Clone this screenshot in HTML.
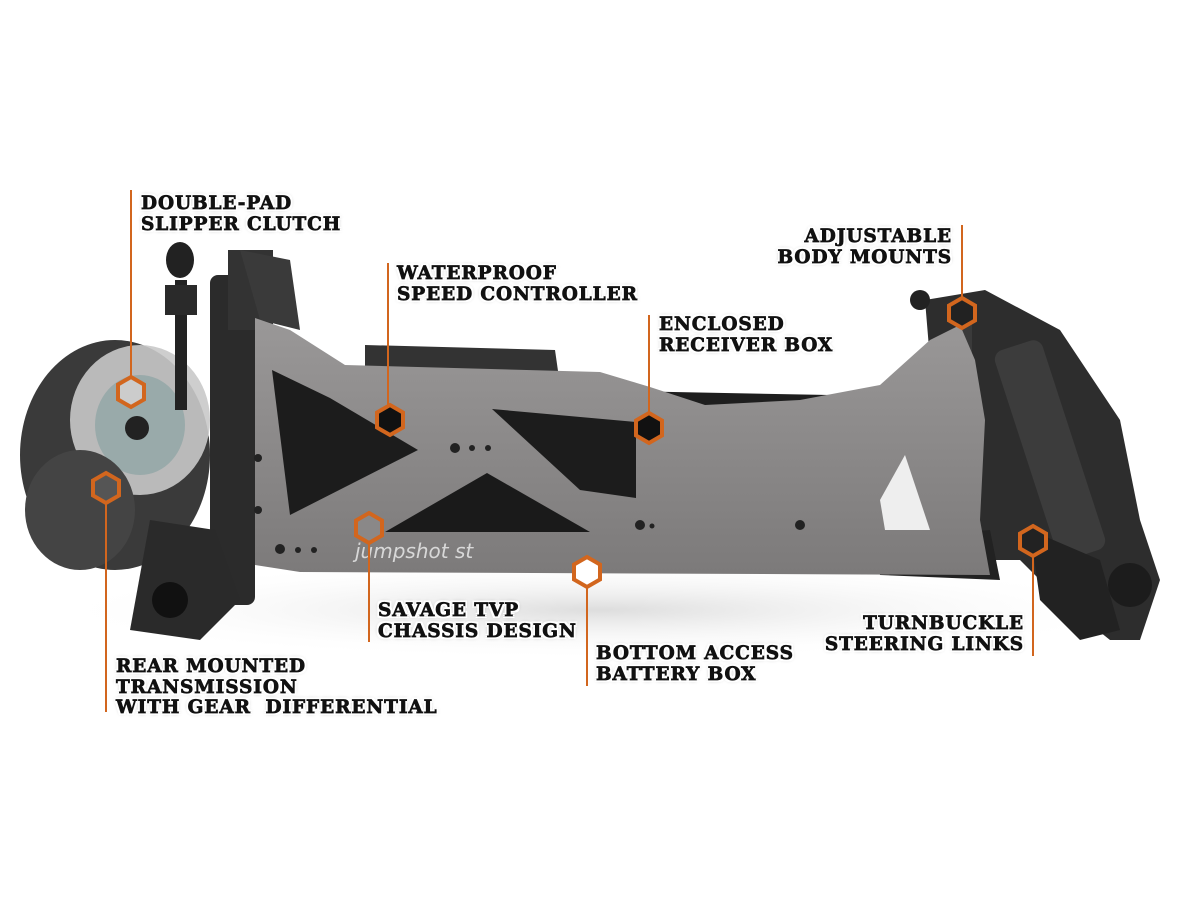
<!DOCTYPE html>
<html><head><meta charset="utf-8"><style>
html,body{margin:0;padding:0;background:#fff;}
#c{position:relative;width:1200px;height:900px;overflow:hidden;background:#fff;}
.l{position:absolute;font-family:"DejaVu Serif","Liberation Serif",serif;font-weight:bold;font-size:18.5px;line-height:20.5px;color:#111;letter-spacing:0.9px;-webkit-text-stroke:0.7px #111;
text-shadow:2px 0 #fff,-2px 0 #fff,0 2px #fff,0 -2px #fff,2px 2px #fff,-2px -2px #fff,2px -2px #fff,-2px 2px #fff,0 0 4px #888;white-space:pre;}
.r{text-align:right;}
</style></head><body><div id="c">
<svg width="1200" height="900" style="position:absolute;left:0;top:0">
<defs>
<radialGradient id="sh" cx="50%" cy="50%" r="50%"><stop offset="0" stop-color="#ddd"/><stop offset="1" stop-color="#fff" stop-opacity="0"/></radialGradient>
<linearGradient id="pl" x1="0" y1="0" x2="0" y2="1"><stop offset="0" stop-color="#9a9898"/><stop offset="1" stop-color="#7c7a7a"/></linearGradient>
</defs>
<ellipse cx="600" cy="610" rx="560" ry="50" fill="url(#sh)"/>
<path d="M310 385 L830 395 L840 520 L300 525 Z" fill="#1e1e1e"/>
<path d="M365 345 L555 350 L560 385 L365 385 Z" fill="#333"/>
<ellipse cx="115" cy="455" rx="95" ry="115" fill="#3a3a3a"/>
<ellipse cx="140" cy="420" rx="70" ry="75" fill="#c9c9c9" opacity="0.9"/>
<ellipse cx="140" cy="425" rx="45" ry="50" fill="#9aa"/>
<circle cx="137" cy="428" r="12" fill="#222"/>
<ellipse cx="80" cy="510" rx="55" ry="60" fill="#444"/>
<rect x="175" y="280" width="12" height="130" fill="#222"/>
<rect x="165" y="285" width="32" height="30" fill="#2a2a2a"/>
<ellipse cx="180" cy="260" rx="14" ry="18" fill="#222"/>
<rect x="210" y="275" width="45" height="330" rx="8" fill="#2b2b2b"/>
<rect x="228" y="250" width="45" height="80" fill="#333"/>
<path d="M240 250 L290 260 L300 330 L260 320 Z" fill="#3a3a3a"/>
<path d="M150 520 L215 530 L240 600 L200 640 L130 630 Z" fill="#2a2a2a"/>
<circle cx="170" cy="600" r="18" fill="#111"/>
<path d="M925 300 L985 290 L1060 330 L1120 420 L1140 520 L1160 580 L1140 640 L1110 640 L1060 600 L1020 560 L980 560 L950 520 L935 420 Z" fill="#2d2d2d"/>
<rect x="1025" y="340" width="50" height="220" rx="10" transform="rotate(-18 1050 450)" fill="#3c3c3c"/>
<path d="M1030 530 L1100 560 L1120 630 L1080 640 L1040 600 Z" fill="#222"/>
<circle cx="1130" cy="585" r="22" fill="#1c1c1c"/>
<rect x="958" y="320" width="14" height="130" fill="#3a3a3a"/>
<circle cx="920" cy="300" r="10" fill="#222"/>
<path d="M870 540 L990 530 L1000 580 L880 575 Z" fill="#222"/>
<path d="M255 318 L290 330 L345 365 L600 372 L650 387 L705 405 L800 400 L880 385 L930 340 L960 325 L975 360 L985 420 L980 520 L990 575 L300 572 L255 565 Z" fill="url(#pl)"/>
<path d="M272 370 L330 398 L418 450 L290 515 Z" fill="#1c1c1c"/>
<path d="M492 409 L636 422 L636 498 L580 490 Z" fill="#1c1c1c"/>
<path d="M385 532 L487 473 L590 532 Z" fill="#1a1a1a"/>
<path d="M880 500 L905 455 L930 530 L885 530 Z" fill="#eee"/>
<g fill="#222"><circle cx="455" cy="448" r="5"/><circle cx="472" cy="448" r="3"/><circle cx="488" cy="448" r="3"/>
<circle cx="280" cy="549" r="5"/><circle cx="298" cy="550" r="3"/><circle cx="314" cy="550" r="3"/>
<circle cx="640" cy="525" r="5"/><circle cx="652" cy="526" r="2.5"/><circle cx="800" cy="525" r="5"/><circle cx="258" cy="458" r="4"/><circle cx="258" cy="510" r="4"/></g>
<text x="355" y="558" font-family="DejaVu Sans,sans-serif" font-style="italic" font-size="20" fill="#d8d8d8">jumpshot st</text>
<g stroke="#d2661e" stroke-width="2" fill="none">
<line x1="131" y1="190" x2="131" y2="376"/>
<line x1="388" y1="263" x2="388" y2="405"/>
<line x1="649" y1="315" x2="649" y2="413"/>
<line x1="962" y1="225" x2="962" y2="298"/>
<line x1="369" y1="543" x2="369" y2="642"/>
<line x1="587" y1="587" x2="587" y2="686"/>
<line x1="1033" y1="556" x2="1033" y2="656"/>
<line x1="106" y1="503" x2="106" y2="712"/>
</g>
<g stroke="#d2661e" stroke-width="4" fill="none">
<polygon points="131,377 144,384.5 144,399.5 131,407 118,399.5 118,384.5" fill="#ccc"/>
<polygon points="390,405 403,412.5 403,427.5 390,435 377,427.5 377,412.5" fill="#111"/>
<polygon points="649,413 662,420.5 662,435.5 649,443 636,435.5 636,420.5" fill="#111"/>
<polygon points="962,298 975,305.5 975,320.5 962,328 949,320.5 949,305.5" fill="#222"/>
<polygon points="369,513 382,520.5 382,535.5 369,543 356,535.5 356,520.5" fill="#8a8888"/>
<polygon points="587,557 600,564.5 600,579.5 587,587 574,579.5 574,564.5" fill="#fff"/>
<polygon points="1033,526 1046,533.5 1046,548.5 1033,556 1020,548.5 1020,533.5" fill="#222"/>
<polygon points="106,473 119,480.5 119,495.5 106,503 93,495.5 93,480.5" fill="#555"/>
</g>
</svg>
<div class="l" style="left:141px;top:194px">DOUBLE-PAD
SLIPPER CLUTCH</div>
<div class="l" style="left:397px;top:264px">WATERPROOF
SPEED CONTROLLER</div>
<div class="l" style="left:659px;top:315px">ENCLOSED
RECEIVER BOX</div>
<div class="l r" style="right:248px;top:227px">ADJUSTABLE
BODY MOUNTS</div>
<div class="l" style="left:378px;top:601px">SAVAGE TVP
CHASSIS DESIGN</div>
<div class="l" style="left:596px;top:644px">BOTTOM ACCESS
BATTERY BOX</div>
<div class="l r" style="right:176px;top:614px">TURNBUCKLE
STEERING LINKS</div>
<div class="l" style="left:116px;top:657px">REAR MOUNTED
TRANSMISSION
WITH GEAR  DIFFERENTIAL</div>
</div></body></html>
